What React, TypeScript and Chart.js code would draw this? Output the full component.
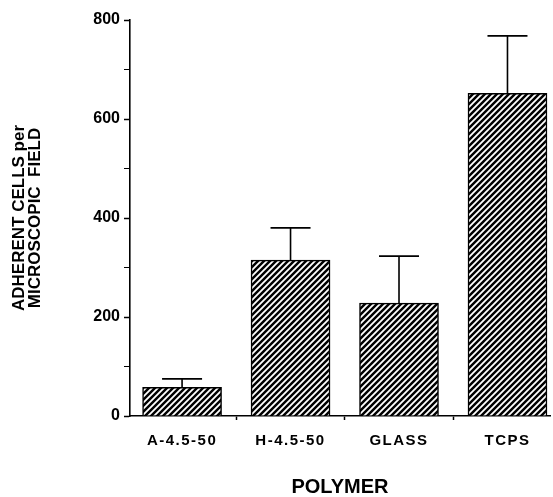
import React, { useEffect, useRef } from "react";
import { Chart, registerables } from "chart.js";

Chart.register(...registerables);

const categories = ["A-4.5-50", "H-4.5-50", "GLASS", "TCPS"];
const cellCounts = [58, 315, 228, 652];
const errorUp = [17, 65, 95, 116];
const yTickValues = [0, 200, 400, 600, 800];

const FONT = "'Liberation Sans', Arial, Helvetica, sans-serif";

function makePattern(): CanvasPattern | string {
  const size = 6;
  const c = document.createElement("canvas");
  c.width = size;
  c.height = size;
  const g = c.getContext("2d");
  if (!g) return "#000";
  g.fillStyle = "#000";
  g.fillRect(0, 0, size, size);
  g.strokeStyle = "#fff";
  g.lineWidth = 1.8;
  g.beginPath();
  g.moveTo(-1, size + 1);
  g.lineTo(size + 1, -1);
  g.moveTo(-size / 2 - 1, size / 2 + 1);
  g.lineTo(size / 2 + 1, -size / 2 - 1);
  g.moveTo(size / 2 - 1, size * 1.5 + 1);
  g.lineTo(size * 1.5 + 1, size / 2 - 1);
  g.stroke();
  const p = g.createPattern(c, "repeat");
  return p || "#000";
}

const errorBarPlugin = {
  id: "errorBars",
  beforeDraw(chart: any) {
    const xs = chart.scales.x;
    if (xs && !xs.__spaced) {
      const orig = xs.drawLabels;
      xs.drawLabels = function (area: any) {
        const c = this.ctx;
        c.save();
        c.letterSpacing = "1.5px";
        orig.call(this, area);
        c.restore();
      };
      xs.__spaced = true;
    }
  },
  afterDatasetsDraw(chart: any) {
    const { ctx, scales } = chart;
    const xs = scales.x;
    const ys = scales.y;
    ctx.save();
    ctx.strokeStyle = "#000";
    ctx.lineWidth = 1.6;
    cellCounts.forEach((v, i) => {
      const x = xs.getPixelForValue(i);
      const yb = ys.getPixelForValue(v);
      const yt = ys.getPixelForValue(v + errorUp[i]);
      ctx.beginPath();
      ctx.moveTo(x, yb);
      ctx.lineTo(x, yt);
      ctx.moveTo(x - 20, yt);
      ctx.lineTo(x + 20, yt);
      ctx.stroke();
    });
    ctx.restore();
  },
};

export default function App() {
  const ref = useRef<HTMLCanvasElement | null>(null);

  useEffect(() => {
    if (!ref.current) return;
    const pattern = makePattern();
    const chart = new Chart(ref.current, {
      type: "bar",
      data: {
        datasets: [
          {
            data: cellCounts.map((v, i) => ({ x: i, y: v })),
            backgroundColor: pattern as any,
            borderColor: "#000",
            borderWidth: 1.5,
            borderSkipped: "bottom",
            barThickness: 79,
          },
        ],
      },
      options: {
        animation: false,
        responsive: false,
        devicePixelRatio: 1,
        layout: { padding: { left: 0, right: 3, top: 20, bottom: 0 } },
        plugins: { legend: { display: false }, tooltip: { enabled: false } },
        scales: {
          x: {
            type: "linear",
            offset: false,
            min: -0.48,
            max: 3.392,
            afterBuildTicks: (scale: any) => {
              scale.ticks = [0, 0.5, 1, 1.5, 2, 2.5, 3].map((v) => ({ value: v }));
            },
            afterFit: (scale: any) => {
              scale.height = 81;
            },
            border: { display: true, color: "#000", width: 1.6 },
            grid: {
              offset: false,
              drawOnChartArea: false,
              drawTicks: true,
              tickLength: 4,
              tickColor: (ctx: any) =>
                ctx.tick && ctx.tick.value % 1 !== 0 ? "#000" : "rgba(0,0,0,0)",
              tickWidth: 1.5,
            },
            ticks: {
              autoSkip: false,
              maxRotation: 0,
              padding: 12,
              color: "#000",
              font: { family: FONT, size: 15, weight: "bold" },
              callback: (v: any) => {
                const n = Number(v);
                return n % 1 === 0 ? categories[n] : "";
              },
            },
            title: {
              display: true,
              text: "POLYMER",
              color: "#000",
              font: { family: FONT, size: 20, weight: "bold", lineHeight: 1 },
              padding: { top: 0, bottom: 0 },
            },
          },
          y: {
            min: 0,
            max: 800,
            afterFit: (scale: any) => {
              scale.width = 130;
            },
            border: { display: true, color: "#000", width: 1.6 },
            grid: {
              drawOnChartArea: false,
              drawTicks: true,
              tickLength: 6,
              tickColor: "#000",
              tickWidth: (ctx: any) =>
                ctx.tick && yTickValues.includes(ctx.tick.value) ? 1.5 : 1,
            },
            ticks: {
              stepSize: 100,
              padding: 4,
              color: "#000",
              font: { family: FONT, size: 16, weight: "bold" },
              callback: (v: any) =>
                yTickValues.includes(Number(v)) ? String(v) : "",
            },
            title: {
              display: true,
              text: ["ADHERENT CELLS per", "MICROSCOPIC  FIELD"],
              color: "#000",
              font: { family: FONT, size: 17, weight: "bold", lineHeight: 0.9 },
              padding: { top: 12, bottom: 0 },
            },
          },
        },
      },
      plugins: [errorBarPlugin],
    });
    return () => chart.destroy();
  }, []);

  return (
    <div style={{ position: "absolute", left: 0, top: 0, width: 553, height: 497, background: "#fff" }}>
      <canvas ref={ref} width={553} height={497} />
    </div>
  );
}
